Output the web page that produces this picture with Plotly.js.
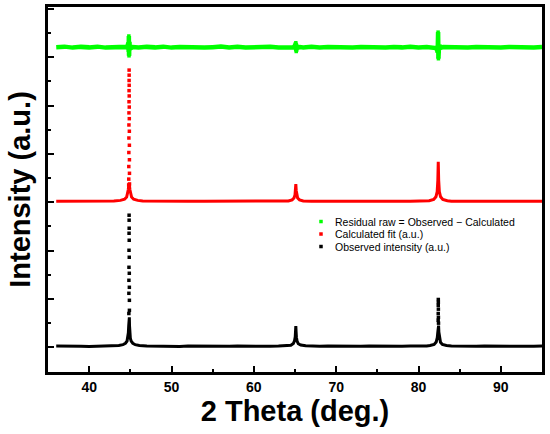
<!DOCTYPE html>
<html>
<head>
<meta charset="utf-8">
<script src="https://cdn.plot.ly/plotly-3.0.1.min.js"></script>
<style>html,body{margin:0;padding:0;background:#fff;}#chart{width:550px;height:434px;}</style>
</head>
<body>
<div id="chart"></div>
<script>
// ---- Observed intensity (black): continuous profile and the sparse dots on the peak tops ----
const obsLineX = [36,37,38,39,40,41,42,43,43.6,44.1,44.4,44.6,44.7,44.76,44.8,44.82,44.88,44.9,44.94,45,45.1,45.3,45.6,46.1,47,48,49,50,51,52,53,54,55,56,57,58,59,60,61,62,63,64,64.5,64.8,64.95,65.03,65.07,65.1,65.13,65.17,65.25,65.4,65.7,66.3,67,68,69,70,71,72,73,74,75,76,77,78,79,80,81,81.4,81.9,82.15,82.28,82.35,82.38,82.44,82.47,82.54,82.67,82.9,83.4,84,85,86,87,88,89,90,91,92,93,94,95];
const obsLineY = [28,22,30,25,20,27,24,30,38,55,85,130,200,300,440,600,620,450,280,190,130,85,55,38,27,22,28,24,20,26,22,28,23,25,21,27,24,20,26,23,28,32,45,80,140,220,340,440,330,210,130,75,48,32,25,22,28,24,21,27,23,26,22,28,24,21,26,24,28,38,60,110,200,320,440,450,320,190,105,60,38,28,23,26,21,27,24,22,27,23,25,22,26];
const obsDotX = [44.82,44.825,44.83,44.835,44.84,44.845,44.85,44.855,44.86,44.865,44.87,44.875,44.88,44.885,44.888,82.39,82.395,82.4,82.405,82.41,82.415,82.42,82.43];
const obsDotY = [700,1118,1387,1656,2008,2360,2733,2630,2464,2215,1863,1532,1242,973,766,560,700,870,990,930,790,620,500];

// ---- Calculated fit (red) ----
const calcLineX = [36,38,40,42,43,43.8,44.3,44.55,44.68,44.75,44.8,44.9,44.95,45.02,45.15,45.4,45.9,46.5,48,50,52,54,56,58,60,62,64.2,64.65,64.88,65,65.05,65.1,65.15,65.2,65.32,65.55,66,67,69,71,73,75,77,79,81.3,81.85,82.12,82.27,82.35,82.4,82.45,82.53,82.68,82.95,83.5,84,86,88,90,92,95];
const calcLineY = [3020,3020,3021,3023,3027,3040,3065,3110,3180,3260,3340,3340,3260,3180,3110,3065,3040,3027,3021,3020,3020,3020,3020,3020,3020,3022,3028,3050,3090,3150,3240,3375,3240,3150,3090,3050,3028,3021,3020,3020,3020,3020,3020,3022,3032,3060,3115,3220,3460,3840,3460,3220,3115,3060,3032,3022,3020,3020,3020,3020,3020];
const calcDotX = [44.8,44.81,44.815,44.82,44.825,44.83,44.835,44.84,44.845,44.85,44.853,44.856,44.86,44.865,44.87,44.875,44.88,44.885,44.89,44.895,44.9];
const calcDotY = [3360,3480,3740,4030,4330,4600,4850,5080,5310,5520,5735,5630,5420,5200,4970,4730,4470,4180,3880,3600,3380];

// ---- Residual (green) ----
const residLineX = [36,37,38,39,40,41,42,43,44,44.4,44.6,44.7,44.76,44.8,44.82,44.84,44.86,44.88,44.9,44.94,45,45.1,45.3,46,47,48,49,50,51,52,53,54,55,56,57,58,59,60,61,62,63,64,64.8,65,65.05,65.1,65.15,65.2,65.3,65.6,66,67,68,69,70,71,72,73,74,75,76,77,78,79,80,81,81.8,82.1,82.25,82.33,82.38,82.4,82.42,82.44,82.47,82.55,82.7,83,84,85,86,87,88,89,90,91,92,93,94,95];
const residLineY = [6210,6220,6200,6215,6205,6220,6200,6212,6205,6215,6200,6240,6300,6110,6440,6030,6390,6060,6320,6150,6240,6190,6210,6200,6215,6205,6220,6200,6212,6205,6218,6200,6210,6222,6203,6215,6200,6212,6206,6218,6201,6213,6205,6240,6140,6300,6120,6250,6195,6210,6205,6218,6202,6212,6205,6220,6200,6212,6206,6218,6202,6214,6205,6220,6203,6212,6200,6190,6150,6100,6520,6050,5970,6400,6150,6250,6195,6212,6205,6218,6202,6214,6206,6220,6200,6213,6205,6218,6203,6212];
const residDotX = [44.82,44.84,44.86,44.88,65.1,65.15,82.38,82.42];
const residDotY = [6440,6030,6390,6060,6300,6120,6520,5970];

const xTickVals = [40,50,60,70,80,90];
const legendNames = ['Residual raw = Observed \u2212 Calculated','Calculated fit (a.u.)','Observed intensity (a.u.)'];

const GREEN = '#00ff00', RED = '#ff0000', BLACK = '#000000';
const FONT = 'Arial, "Liberation Sans", sans-serif';

function lineTrace(x, y, color, w) {
  return {x: x, y: y, type: 'scatter', mode: 'lines', line: {color: color, width: w}, showlegend: false, hoverinfo: 'skip'};
}
function dotTrace(x, y, color, name) {
  return {x: x, y: y, type: 'scatter', mode: 'markers', name: name,
          marker: {symbol: 'square', size: 3.5, color: color, line: {width: 0}}};
}

const data = [
  lineTrace(residLineX, residLineY, GREEN, 4.5),
  dotTrace(residDotX, residDotY, GREEN, legendNames[0]),
  lineTrace(calcLineX, calcLineY, RED, 3),
  dotTrace(calcDotX, calcDotY, RED, legendNames[1]),
  lineTrace(obsLineX, obsLineY, BLACK, 3),
  dotTrace(obsDotX, obsDotY, BLACK, legendNames[2])
];

const layout = {
  width: 550, height: 434,
  margin: {l: 48, r: 8, t: 7, b: 62},
  paper_bgcolor: '#ffffff', plot_bgcolor: '#ffffff',
  font: {family: FONT, color: '#000'},
  showlegend: true,
  legend: {x: 0.50, y: 0.452, xanchor: 'left', yanchor: 'top', bgcolor: 'rgba(0,0,0,0)',
           font: {family: FONT, size: 10.5, color: '#000'}, itemwidth: 30},
  xaxis: {
    range: [35, 95], tickvals: xTickVals, ticktext: xTickVals.map(String),
    ticks: 'inside', ticklen: 6, tickwidth: 2, tickcolor: '#000',
    minor: {dtick: 5, tick0: 0, ticks: 'inside', ticklen: 3, tickwidth: 2, tickcolor: '#000'},
    showline: true, linewidth: 3, linecolor: '#000', mirror: true,
    showgrid: false, zeroline: false,
    tickfont: {family: FONT, size: 14, weight: 'bold', color: '#000'},
    title: {text: '2 Theta (deg.)', standoff: 4, font: {family: FONT, size: 29, weight: 'bold', color: '#000'}}
  },
  yaxis: {
    range: [-510, 7040], dtick: 1000, tick0: 0, showticklabels: false,
    ticks: 'inside', ticklen: 6, tickwidth: 2, tickcolor: '#000',
    minor: {dtick: 500, tick0: 0, ticks: 'inside', ticklen: 3, tickwidth: 2, tickcolor: '#000'},
    showline: true, linewidth: 3, linecolor: '#000', mirror: true,
    showgrid: false, zeroline: false,
    title: {text: 'Intensity (a.u.)', standoff: 6, font: {family: FONT, size: 29, weight: 'bold', color: '#000'}}
  }
};

Plotly.newPlot('chart', data, layout, {staticPlot: true, displayModeBar: false}).then(function (gd) {
  // tighten legend rows (the reference stacks its entries about 12.5 px apart)
  const items = gd.querySelectorAll('.legend .traces');
  let first = null;
  items.forEach(function (g, i) {
    const m = /translate\(\s*([-\d.]+)[ ,]+([-\d.]+)\s*\)/.exec(g.getAttribute('transform') || '');
    if (!m) return;
    const x = parseFloat(m[1]);
    if (first === null) first = parseFloat(m[2]);
    g.setAttribute('transform', 'translate(' + x + ',' + (first + i * 12.5) + ')');
    const sym = g.querySelector('.legendsymbols');
    if (sym) sym.setAttribute('transform', 'translate(6,0)');
  });
});
</script>
</body>
</html>
